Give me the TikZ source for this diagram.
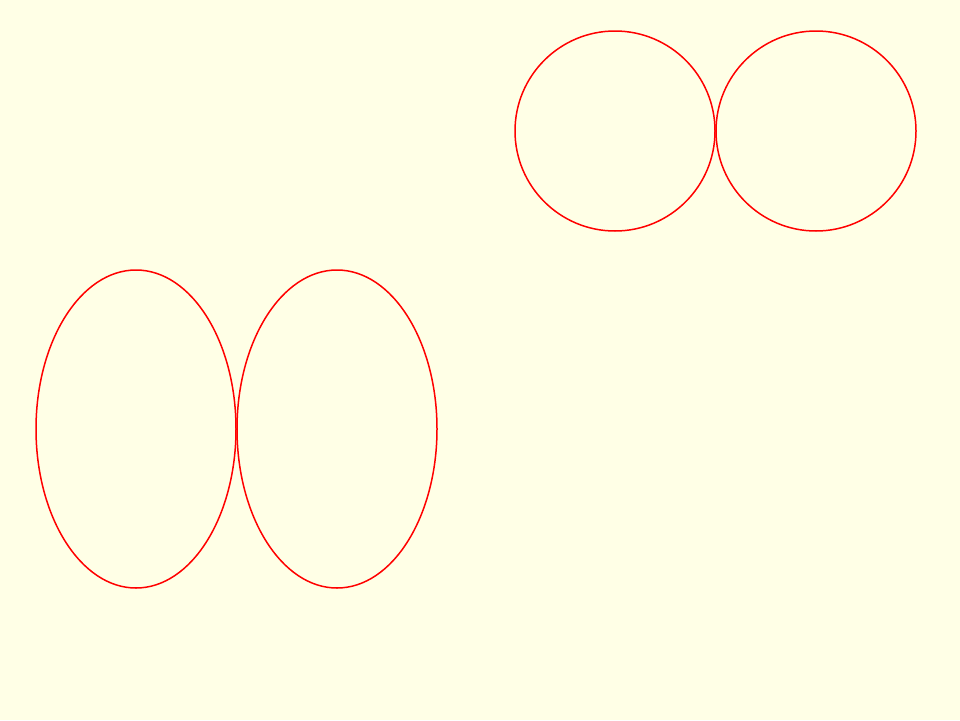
\documentclass[tikz,border=0pt]{standalone}
\definecolor{bgyellow}{HTML}{FFFFE6}
\begin{document}
\begin{tikzpicture}[x=1pt,y=-1pt,
  outline/.style={draw=red,line width=1.5pt}]
\fill[bgyellow] (0,0) rectangle (960,720);
\useasboundingbox (0,0) rectangle (960,720);
\path[outline] (615,131) circle [radius=100] coordinate (c1);
\path[outline] (816,131) circle [radius=100] coordinate (c2);
\path[outline] (136,429) ellipse [x radius=100, y radius=159] coordinate (e1);
\path[outline] (337,429) ellipse [x radius=100, y radius=159] coordinate (e2);
\end{tikzpicture}
\end{document}
